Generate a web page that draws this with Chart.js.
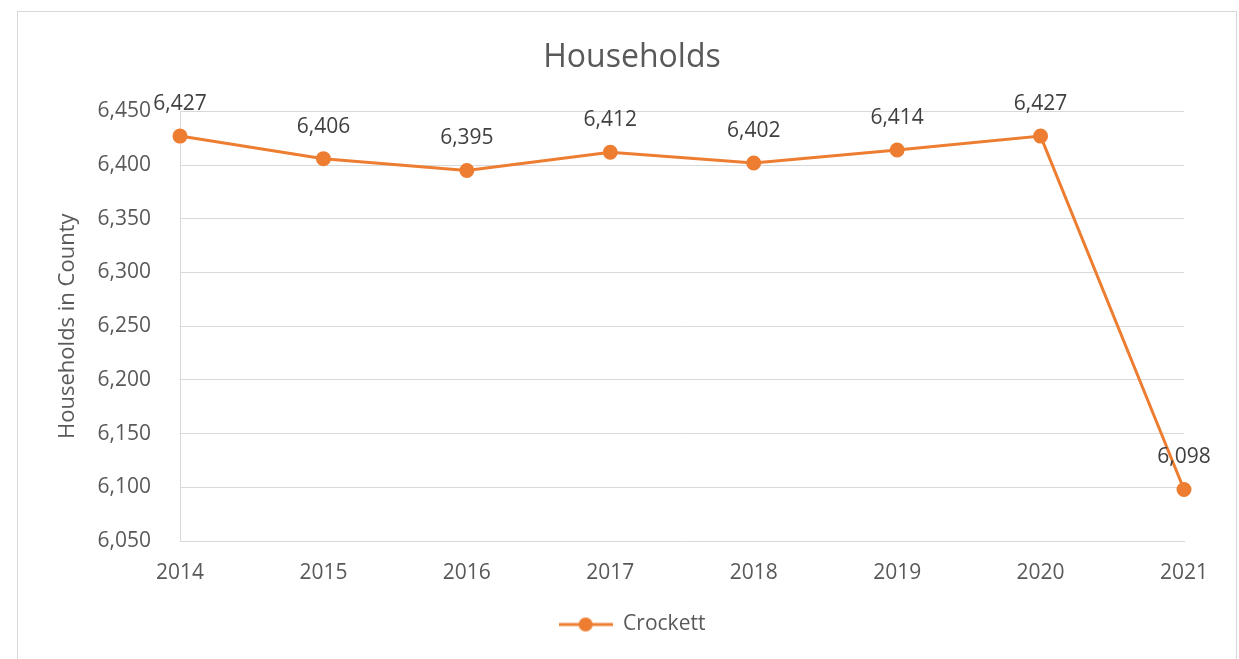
<!DOCTYPE html>
<html>
<head>
<meta charset="utf-8">
<script src="https://cdn.jsdelivr.net/npm/chart.js@4.4.1/dist/chart.umd.min.js"></script>
<style>
  html, body { margin: 0; padding: 0; background: #fff; overflow: hidden; }
  #frame {
    position: absolute; left: 17px; top: 11px;
    width: 1218px; height: 660px;
    border: 1px solid #d9d9d9;
  }
  canvas { display: block; }
</style>
</head>
<body>
<div id="frame"><canvas id="chart" width="1218" height="647"></canvas></div>
<script>
// Chart data
const years = ['2014', '2015', '2016', '2017', '2018', '2019', '2020', '2021'];
const households = [6427, 6406, 6395, 6412, 6402, 6414, 6427, 6098];
const yTicks = [6050, 6100, 6150, 6200, 6250, 6300, 6350, 6400, 6450];
const yAxisTitle = 'Households in County';

const FONT = '"Open Sans", "Noto Sans", sans-serif';
const ORANGE = '#ED7D31';
const TEXT = '#595959';

// legend marker: line with a dot in the middle
function legendMarker() {
    const c = document.createElement('canvas');
    c.width = 54;
    c.height = 16;
    const g = c.getContext('2d');
    g.strokeStyle = ORANGE;
    g.lineWidth = 3;
    g.beginPath();
    g.moveTo(0, 8);
    g.lineTo(54, 8);
    g.stroke();
    g.fillStyle = ORANGE;
    g.beginPath();
    g.arc(27, 8, 7, 0, Math.PI * 2);
    g.fill();
    return c;
}

// value labels above each point + the rotated y axis title
const extraText = {
    id: 'extraText',
    afterDatasetsDraw(chart) {
        const ctx = chart.ctx;
        const meta = chart.getDatasetMeta(0);
        ctx.save();
        ctx.font = '21px ' + FONT;
        ctx.fillStyle = '#404040';
        ctx.textAlign = 'center';
        ctx.textBaseline = 'middle';
        meta.data.forEach((pt, i) => {
            ctx.fillText(households[i].toLocaleString('en-US'), pt.x, pt.y - 32);
        });

        // y axis title, drawn here so the layout can stay centred
        const area = chart.chartArea;
        ctx.translate(50, (area.top + area.bottom) / 2);
        ctx.rotate(-Math.PI / 2);
        ctx.font = '22px ' + FONT;
        ctx.fillStyle = TEXT;
        ctx.fillText(yAxisTitle, 0, 0);
        ctx.restore();
    }
};

const marker = legendMarker();

new Chart(document.getElementById('chart'), {
    type: 'line',
    data: {
        labels: years,
        datasets: [{
            label: 'Crockett',
            data: households,
            borderColor: ORANGE,
            backgroundColor: ORANGE,
            borderWidth: 3,
            pointRadius: 6,
            pointBackgroundColor: ORANGE,
            pointBorderColor: ORANGE,
            tension: 0
        }]
    },
    options: {
        responsive: false,
        animation: false,
        layout: {
            padding: { left: 62, right: 52, top: 0, bottom: 14 }
        },
        scales: {
            x: {
                grid: { display: false, drawTicks: false },
                border: { display: true, color: '#d9d9d9' },
                ticks: {
                    color: TEXT,
                    font: { family: FONT, size: 21 },
                    padding: 19,
                    maxRotation: 0
                },
                afterFit(scale) { scale.height = 63; }
            },
            y: {
                min: 6050,
                max: 6450,
                afterBuildTicks(scale) {
                    scale.ticks = yTicks.map(v => ({ value: v }));
                },
                grid: { color: '#d9d9d9', drawTicks: false, lineWidth: 1 },
                border: { display: true, color: '#d9d9d9' },
                ticks: {
                    color: TEXT,
                    font: { family: FONT, size: 21 },
                    padding: 29,
                    callback: v => v.toLocaleString('en-US')
                },
                afterFit(scale) { scale.width = 100; }
            }
        },
        plugins: {
            title: {
                display: true,
                text: 'Households',
                color: TEXT,
                font: { family: FONT, size: 32, weight: 'normal' },
                padding: { top: 27, bottom: 34 }
            },
            legend: {
                position: 'bottom',
                labels: {
                    color: TEXT,
                    font: { family: FONT, size: 21 },
                    usePointStyle: true,
                    pointStyleWidth: 54,
                    padding: 10,
                    generateLabels(chart) {
                        return [{
                            text: 'Crockett',
                            pointStyle: marker,
                            fillStyle: ORANGE,
                            strokeStyle: ORANGE,
                            lineWidth: 0,
                            fontColor: TEXT,
                            datasetIndex: 0,
                            hidden: false
                        }];
                    }
                }
            },
            tooltip: { enabled: false }
        }
    },
    plugins: [extraText]
});
</script>
</body>
</html>
